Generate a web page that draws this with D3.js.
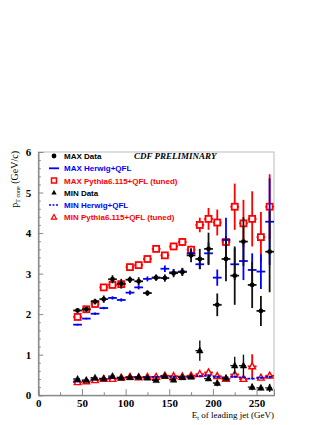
<!DOCTYPE html>
<html>
<head>
<meta charset="utf-8">
<script src="https://cdn.jsdelivr.net/npm/d3@7"></script>
<style>
  body { margin: 0; background: #fff; }
  svg { display: block; }
</style>
</head>
<body>
<script>
// bins of leading jet Et (GeV), 10 GeV wide
var binCenters = [45,55,65,75,85,95,105,115,125,135,145,155,165,175,185,195,205,215,225,235,245,255,265];
var binHalf = 5;

var maxData      = [2.09,2.12,2.31,2.37,2.86,2.75,2.85,2.81,2.52,2.90,2.89,3.01,3.04,3.45,3.36,3.61,2.23,3.36,2.95,3.79,2.72,2.08,3.54];
var maxDataErr   = [0.04,0.05,0.07,0.09,0.10,0.12,0.08,0.10,0.07,0.08,0.09,0.10,0.10,0.17,0.25,0.40,0.28,0.55,0.72,0.60,0.57,0.37,1.00];

var maxHerwig    = [1.74,1.89,2.01,2.15,2.40,2.35,2.53,2.66,2.87,2.90,3.12,3.03,3.05,3.50,3.23,3.50,2.90,3.83,3.23,3.31,3.09,3.05,4.28];
var maxHerwigErr = [0.02,0.02,0.03,0.03,0.04,0.04,0.05,0.05,0.06,0.06,0.08,0.08,0.09,0.12,0.12,0.27,0.20,0.55,0.39,0.47,0.41,0.43,1.07];

var maxPythia    = [1.93,2.12,2.25,2.66,2.72,2.74,3.16,3.21,3.36,3.61,3.45,3.67,3.78,3.59,4.20,4.35,4.26,3.78,4.65,4.24,4.35,3.90,4.65];
var maxPythiaErr = [0.03,0.04,0.04,0.05,0.05,0.06,0.06,0.07,0.07,0.08,0.08,0.09,0.10,0.10,0.18,0.27,0.32,0.15,0.57,0.58,0.68,0.62,0.80];

var minData      = [0.40,0.37,0.43,0.41,0.47,0.43,0.44,0.45,0.43,0.37,0.47,0.38,0.44,0.45,1.10,0.41,0.30,0.42,0.73,0.73,0.20,0.18,0.18];
var minDataErr   = [0.03,0.03,0.04,0.03,0.04,0.04,0.04,0.04,0.04,0.04,0.05,0.05,0.05,0.05,0.25,0.06,0.08,0.06,0.22,0.27,0.08,0.06,0.10];

var minHerwig    = [0.34,0.36,0.39,0.41,0.43,0.43,0.44,0.44,0.45,0.45,0.46,0.46,0.45,0.46,0.47,0.48,0.45,0.44,0.46,0.44,0.41,0.43,0.45];

var minPythia    = [0.32,0.34,0.37,0.40,0.40,0.43,0.45,0.44,0.45,0.45,0.48,0.47,0.46,0.48,0.52,0.56,0.47,0.40,0.51,0.40,0.71,0.43,0.48];
var minPythiaErr = [0.02,0.02,0.02,0.02,0.02,0.02,0.03,0.03,0.03,0.03,0.03,0.03,0.04,0.04,0.05,0.06,0.05,0.05,0.06,0.06,0.30,0.06,0.08];

var yTicks = [0,1,2,3,4,5,6];
var xTicks = [0,50,100,150,200,250];

var legendLabels = ["MAX Data","MAX Herwig+QFL","MAX Pythia6.115+QFL (tuned)",
                    "MIN Data","MIN Herwig+QFL","MIN Pythia6.115+QFL (tuned)"];

var w = 329, h = 425;
var red = "#ff0000", blue = "#0000ff", black = "#000000";

var svg = d3.select("body").append("svg")
  .attr("width", w).attr("height", h);

var xScale = d3.scaleLinear().domain([0,270]).range([38.3,274]);
var yScale = d3.scaleLinear().domain([0,6]).range([395.2,152]);

// frame
svg.append("rect")
  .attr("x", xScale(0)).attr("y", yScale(6))
  .attr("width", xScale(270) - xScale(0))
  .attr("height", yScale(0) - yScale(6))
  .attr("fill", "none").attr("stroke", "#bbb").attr("stroke-width", 1);

// axes, ticks inside
var xAxis = d3.axisBottom(xScale).tickValues(xTicks).tickSize(-6).tickFormat(d3.format("d"));
var xMinor = d3.axisBottom(xScale).tickValues(d3.range(0,271,25).filter(function(d){return d % 50 != 0;})).tickSize(-3).tickFormat("");
var yAxis = d3.axisLeft(yScale).tickValues(yTicks).tickSize(-5).tickFormat(d3.format("d"));
var yMinor = d3.axisLeft(yScale).tickValues(d3.range(0,6.01,0.2).filter(function(d){return Math.abs(d - Math.round(d)) > 0.01;})).tickSize(-2.5).tickFormat("");

function styleAxis(g) {
  g.select(".domain").attr("stroke", "#888");
  g.selectAll(".tick line").attr("stroke", "#888");
  g.selectAll("text")
    .attr("font-family", "'Liberation Serif', 'DejaVu Serif', serif")
    .attr("font-weight", "bold")
    .attr("font-size", 11)
    .attr("fill", "#000");
}

svg.append("g").attr("transform","translate(0," + yScale(0) + ")").call(xMinor).call(styleAxis);
svg.append("g").attr("transform","translate(0," + yScale(0) + ")").call(xAxis).call(styleAxis)
  .selectAll("text").attr("y", 4);
svg.append("g").attr("transform","translate(" + xScale(0) + ",0)").call(yMinor).call(styleAxis);
svg.append("g").attr("transform","translate(" + xScale(0) + ",0)").call(yAxis).call(styleAxis)
  .selectAll("text").attr("x", -7);

// draws error crosses: horizontal bin width + vertical error
function drawCrosses(vals, errs, color, dashed, width) {
  var g = svg.append("g").attr("stroke", color).attr("stroke-width", width || 1.8);
  g.selectAll("line.h").data(vals).enter().append("line")
    .attr("x1", function(d,i){ return xScale(binCenters[i] - binHalf); })
    .attr("x2", function(d,i){ return xScale(binCenters[i] + binHalf); })
    .attr("y1", function(d){ return yScale(d); })
    .attr("y2", function(d){ return yScale(d); })
    .attr("stroke-dasharray", dashed ? "2.5,1.8" : null);
  if (errs) {
    g.selectAll("line.v").data(vals).enter().append("line")
      .attr("x1", function(d,i){ return xScale(binCenters[i]); })
      .attr("x2", function(d,i){ return xScale(binCenters[i]); })
      .attr("y1", function(d,i){ return yScale(d - errs[i]); })
      .attr("y2", function(d,i){ return yScale(d + errs[i]); });
  }
  return g;
}

function squares(vals, color) {
  svg.append("g").selectAll("rect").data(vals).enter().append("rect")
    .attr("x", function(d,i){ return xScale(binCenters[i]) - 3; })
    .attr("y", function(d){ return yScale(d) - 3; })
    .attr("width", 6).attr("height", 6)
    .attr("fill", "#fff").attr("stroke", color).attr("stroke-width", 1.8);
}

var triPath = "M0,-3.6L3.3,2.4L-3.3,2.4Z";
function triangles(vals, color, filled) {
  svg.append("g").selectAll("path").data(vals).enter().append("path")
    .attr("d", triPath)
    .attr("transform", function(d,i){ return "translate(" + xScale(binCenters[i]) + "," + yScale(d) + ")"; })
    .attr("fill", filled ? color : "#fff")
    .attr("stroke", color).attr("stroke-width", filled ? 0.5 : 1.4);
}

function dots(vals, color, r) {
  svg.append("g").selectAll("circle").data(vals).enter().append("circle")
    .attr("cx", function(d,i){ return xScale(binCenters[i]); })
    .attr("cy", function(d){ return yScale(d); })
    .attr("r", r).attr("fill", color);
}

// MAX
drawCrosses(maxPythia, maxPythiaErr, red);
squares(maxPythia, red);
drawCrosses(maxHerwig, maxHerwigErr, blue);
drawCrosses(maxData, maxDataErr, "#111");
dots(maxData, black, 2.4);

// MIN
drawCrosses(minPythia, minPythiaErr, red);
triangles(minPythia, red, false);
drawCrosses(minHerwig, null, blue, true);
dots(minHerwig, blue, 1.1);
drawCrosses(minData, minDataErr, "#111", true, 1.4);
triangles(minData, black, true);

// legend
var legY = [156, 168.3, 180.5, 192.7, 205, 217.3];
var legColors = [black, blue, red, black, blue, red];
var leg = svg.append("g");
leg.selectAll("text").data(legendLabels).enter().append("text")
  .attr("x", 64).attr("y", function(d,i){ return legY[i] + 3; })
  .attr("font-family", "'Liberation Sans', Arial, sans-serif")
  .attr("font-weight", "bold").attr("font-size", 8)
  .attr("fill", function(d,i){ return legColors[i]; })
  .text(function(d){ return d; });

leg.append("circle").attr("cx", 54).attr("cy", legY[0]).attr("r", 2.4).attr("fill", black);
leg.append("line").attr("x1", 49).attr("x2", 59).attr("y1", legY[1]).attr("y2", legY[1])
  .attr("stroke", blue).attr("stroke-width", 1.8);
leg.append("rect").attr("x", 51.5).attr("y", legY[2] - 2.5).attr("width", 5).attr("height", 5)
  .attr("fill", "#fff").attr("stroke", red).attr("stroke-width", 1.5);
leg.append("path").attr("d", triPath).attr("transform", "translate(54," + legY[3] + ") scale(0.8)")
  .attr("fill", black);
leg.append("line").attr("x1", 49).attr("x2", 59).attr("y1", legY[4]).attr("y2", legY[4])
  .attr("stroke", blue).attr("stroke-width", 1.6).attr("stroke-dasharray", "2,1.5");
leg.append("path").attr("d", triPath).attr("transform", "translate(54," + legY[5] + ") scale(0.8)")
  .attr("fill", "#fff").attr("stroke", red).attr("stroke-width", 1.5);

svg.append("text")
  .attr("x", 134).attr("y", 159)
  .attr("font-family", "'Liberation Serif', serif")
  .attr("font-weight", "bold").attr("font-style", "italic").attr("font-size", 9)
  .text("CDF PRELIMINARY");

// axis titles
var yt = svg.append("text")
  .attr("transform", "translate(18,151) rotate(-90)")
  .attr("text-anchor", "end")
  .attr("font-family", "'Liberation Serif', serif")
  .attr("font-size", 10);
yt.append("tspan").text("p");
yt.append("tspan").attr("font-size", 6).attr("dy", 2).text("T cone");
yt.append("tspan").attr("dy", -2).text("  (GeV/c)");

var xt = svg.append("text")
  .attr("x", 274).attr("y", 418)
  .attr("text-anchor", "end")
  .attr("font-family", "'Liberation Serif', serif")
  .attr("font-size", 9);
xt.append("tspan").text("E");
xt.append("tspan").attr("font-size", 6).attr("dy", 2).text("t");
xt.append("tspan").attr("dy", -2).text(" of leading jet (GeV)");
</script>
</body>
</html>
